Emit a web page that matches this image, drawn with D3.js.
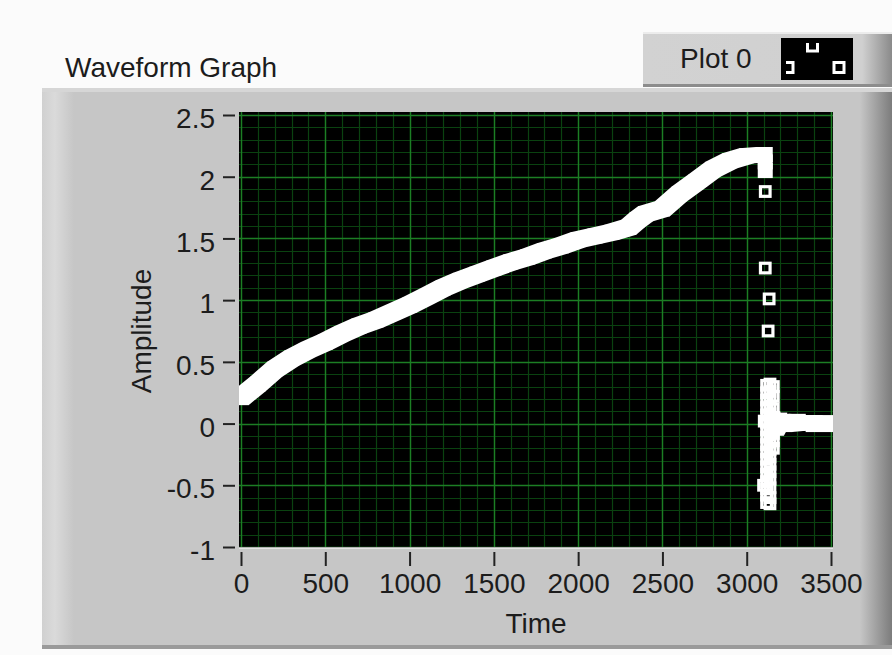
<!DOCTYPE html>
<html>
<head>
<meta charset="utf-8">
<script src="https://cdn.jsdelivr.net/npm/d3@7/dist/d3.min.js"></script>
<style>
body{margin:0;background:#fbfbfb;}
svg{display:block;}
text{font-family:"Liberation Sans",Arial,sans-serif;fill:#1c1c1c;}
</style>
</head>
<body>
<svg id="chart" width="892" height="655"></svg>
<script>
// values
var mainT = [0,100,200,300,400,500,600,700,800,900,1000,1100,1200,1300,1400,1500,1600,1700,1800,1900,2000,2100,2200,2300,2350,2400,2500,2600,2700,2800,2900,3000,3100,3110];
var mainV = [0.21,0.32,0.44,0.53,0.60,0.66,0.73,0.79,0.84,0.90,0.96,1.03,1.10,1.16,1.21,1.26,1.31,1.35,1.40,1.44,1.49,1.52,1.55,1.59,1.65,1.70,1.74,1.86,1.96,2.06,2.13,2.17,2.18,2.18];
var dropT = [3110,3110];
var dropV = [2.12,2.05];
var tailT = [3150,3170,3190,3220,3300,3400,3500];
var tailV = [0.03,-0.03,0.02,0.0,0.01,0.0,0.0];
var dotT = [3110,3110,3133,3127];
var dotV = [1.88,1.26,1.01,0.75];
var clusterT = [3118,3118,3118,3118,3118,3118,3118,3118,3118,3118,3118,3118,3118,3118,3118,3118,3118,
                3138,3138,3138,3138,3138,3138,3138,3138,3138,3138,3138,3138,3138,3138,3138,3138,3138,
                3158,3158,3158,3158,3158,3158,3158,3158,3100,3104];
var clusterV = [0.31,0.25,0.19,0.13,0.07,0.01,-0.05,-0.11,-0.17,-0.23,-0.29,-0.35,-0.41,-0.47,-0.53,-0.58,-0.64,
                0.32,0.26,0.20,0.14,0.08,0.03,-0.03,-0.09,-0.15,-0.21,-0.27,-0.33,-0.39,-0.45,-0.52,-0.60,-0.65,
                0.30,0.22,0.12,0.05,-0.02,-0.08,-0.14,-0.20,-0.50,0.02];
var xTicks = [0,500,1000,1500,2000,2500,3000,3500];
var yTicks = [-1,-0.5,0,0.5,1,1.5,2,2.5];
var yTickLabels = ['-1','-0.5','0','0.5','1','1.5','2','2.5'];

var svg = d3.select('#chart');
var defs = svg.append('defs');

var x = d3.scaleLinear().domain([0,3500]).range([241,831]);
var y = d3.scaleLinear().domain([-1,2.5]).range([547,115]);

// panel gradients
var gl = defs.append('linearGradient').attr('id','gLeft');
gl.append('stop').attr('offset','0%').attr('stop-color','#d0d0d0');
gl.append('stop').attr('offset','40%').attr('stop-color','#dadada');
gl.append('stop').attr('offset','100%').attr('stop-color','#c6c6c6');
var gr = defs.append('linearGradient').attr('id','gRight');
gr.append('stop').attr('offset','0%').attr('stop-color','#c6c6c6');
gr.append('stop').attr('offset','100%').attr('stop-color','#7c7c7c');
var lg = defs.append('linearGradient').attr('id','gLeg');
lg.append('stop').attr('offset','0%').attr('stop-color','#d2d2d2');
lg.append('stop').attr('offset','88%').attr('stop-color','#d0d0d0');
lg.append('stop').attr('offset','100%').attr('stop-color','#8a8a8a');

// graph panel
svg.append('rect').attr('x',42).attr('y',88).attr('width',850).attr('height',561).attr('fill','#c6c6c6');
svg.append('rect').attr('x',42).attr('y',88).attr('width',32).attr('height',561).attr('fill','url(#gLeft)');
svg.append('rect').attr('x',860).attr('y',88).attr('width',32).attr('height',561).attr('fill','url(#gRight)');
svg.append('rect').attr('x',42).attr('y',88).attr('width',850).attr('height',4).attr('fill','#d6d6d6');
svg.append('rect').attr('x',42).attr('y',645).attr('width',850).attr('height',4).attr('fill','#9a9a9a');

// title
svg.append('text').attr('x',65).attr('y',77).attr('font-size',28).text('Waveform Graph');

// legend
svg.append('rect').attr('x',643).attr('y',32).attr('width',249).attr('height',55).attr('fill','url(#gLeg)');
svg.append('rect').attr('x',643).attr('y',32).attr('width',249).attr('height',2).attr('fill','#ececec');
svg.append('rect').attr('x',643).attr('y',84).attr('width',249).attr('height',3).attr('fill','#8c8c8c');
svg.append('text').attr('x',680).attr('y',68).attr('font-size',28).text('Plot 0');
svg.append('rect').attr('x',781).attr('y',38).attr('width',72).attr('height',42).attr('fill','#000');
defs.append('clipPath').attr('id','swClip').append('rect').attr('x',786).attr('y',43).attr('width',67).attr('height',37);
var sw = svg.append('g').attr('clip-path','url(#swClip)');
[[788,67.5],[812.5,46],[839,67.5]].forEach(function(p){
  sw.append('rect').attr('x',p[0]-5).attr('y',p[1]-5).attr('width',10).attr('height',10)
    .attr('fill','none').attr('stroke','#fff').attr('stroke-width',3);
});

// plot area
svg.append('rect').attr('x',239).attr('y',112).attr('width',594).attr('height',436).attr('fill','#000');
defs.append('clipPath').attr('id','plotClip').append('rect').attr('x',239).attr('y',112).attr('width',594).attr('height',435);
var plot = svg.append('g').attr('clip-path','url(#plotClip)');

var minorX = x.ticks(35), minorY = y.ticks(35);
plot.selectAll('line.mx').data(minorX).enter().append('line')
  .attr('x1',function(d){return Math.round(x(d))+0.5;}).attr('x2',function(d){return Math.round(x(d))+0.5;})
  .attr('y1',112).attr('y2',548).attr('stroke','#0a4210').attr('stroke-width',1.2);
plot.selectAll('line.my').data(minorY).enter().append('line')
  .attr('y1',function(d){return Math.round(y(d))+0.5;}).attr('y2',function(d){return Math.round(y(d))+0.5;})
  .attr('x1',239).attr('x2',833).attr('stroke','#0a4210').attr('stroke-width',1.2);
plot.selectAll('line.gx').data(xTicks).enter().append('line')
  .attr('x1',function(d){return Math.round(x(d))+0.5;}).attr('x2',function(d){return Math.round(x(d))+0.5;})
  .attr('y1',112).attr('y2',548).attr('stroke','#1c7e24').attr('stroke-width',1.4);
plot.selectAll('line.gy').data(yTicks).enter().append('line')
  .attr('y1',function(d){return Math.round(y(d))+0.5;}).attr('y2',function(d){return Math.round(y(d))+0.5;})
  .attr('x1',239).attr('x2',833).attr('stroke','#1c7e24').attr('stroke-width',1.4);

// thick band of overlapping square markers
var half = 7.5, tailHalf = 8.5;
function bandOf(h){
  return d3.area()
    .x0(function(d){return x(d.t)-h;}).y0(function(d){return y(d.v)-h;})
    .x1(function(d){return x(d.t)+h;}).y1(function(d){return y(d.v)+h;});
}
var mainData = mainT.map(function(t,i){return {t:t, v:mainV[i]};});
var tailData = tailT.map(function(t,i){return {t:t, v:tailV[i]};});
var dropData = dropT.map(function(t,i){return {t:t, v:dropV[i]};});
plot.append('path').attr('d',bandOf(half)(mainData)).attr('fill','#fff');
plot.append('path').attr('d',bandOf(tailHalf)(tailData)).attr('fill','#fff');
plot.selectAll('rect.pt').data(mainData.concat(dropData)).enter().append('rect')
  .attr('x',function(d){return x(d.t)-half;}).attr('y',function(d){return y(d.v)-half;})
  .attr('width',half*2).attr('height',half*2).attr('fill','#fff');
plot.selectAll('rect.tp').data(tailData).enter().append('rect')
  .attr('x',function(d){return x(d.t)-tailHalf;}).attr('y',function(d){return y(d.v)-tailHalf;})
  .attr('width',tailHalf*2).attr('height',tailHalf*2).attr('fill','#fff');

var hollow = dotT.map(function(t,i){return {t:t, v:dotV[i]};})
  .concat(clusterT.map(function(t,i){return {t:t, v:clusterV[i]};}));
plot.selectAll('rect.dot').data(hollow).enter().append('rect')
  .attr('x',function(d){return x(d.t)-4.8;}).attr('y',function(d){return y(d.v)-4.8;})
  .attr('width',9.6).attr('height',9.6).attr('fill','none').attr('stroke','#fff').attr('stroke-width',3.2);

svg.append('line').attr('x1',239).attr('x2',833).attr('y1',548).attr('y2',548).attr('stroke','#eeeeee').attr('stroke-width',1.5);

// axes
var yAxis = svg.append('g').attr('transform','translate(235,0)')
  .call(d3.axisLeft(y).tickValues(yTicks).tickSize(12).tickPadding(8)
    .tickFormat(function(d,i){return yTickLabels[i];}));
var xAxis = svg.append('g').attr('transform','translate(0,552)')
  .call(d3.axisBottom(x).tickValues(xTicks).tickSize(14).tickPadding(7).tickFormat(d3.format('d')));
[yAxis, xAxis].forEach(function(a){
  a.select('.domain').remove();
  a.selectAll('line').attr('stroke','#222').attr('stroke-width',2);
  a.selectAll('text').attr('font-family','"Liberation Sans",Arial,sans-serif').attr('font-size',28).attr('fill','#1c1c1c');
});
yAxis.selectAll('text').attr('dy','0.45em');

svg.append('text').attr('transform','translate(151,331) rotate(-90)').attr('text-anchor','middle')
  .attr('font-size',28).text('Amplitude');
svg.append('text').attr('x',536).attr('y',633).attr('text-anchor','middle').attr('font-size',28).text('Time');
</script>
</body>
</html>
